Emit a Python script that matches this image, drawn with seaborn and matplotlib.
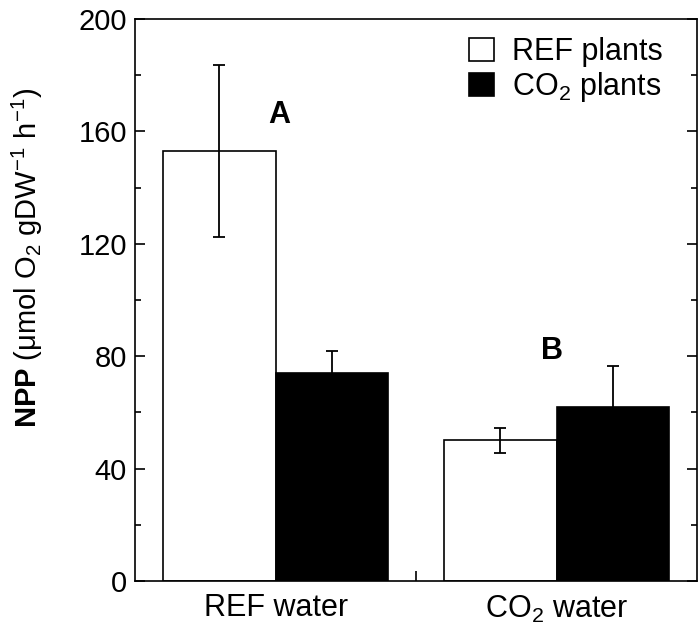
import pandas as pd
import numpy as np
import seaborn as sns
import matplotlib.pyplot as plt
from matplotlib.ticker import MultipleLocator, FixedLocator

# values
water = ["REF water", "CO$_2$ water"]
plants = ["REF plants", "CO$_2$ plants"]
npp_ref_plants = [153, 50]
npp_co2_plants = [74, 62]
err_ref_plants = [30.5, 4.5]
err_co2_plants = [8, 14.5]
letters = ["A", "B"]
letter_x = [0.014, 0.985]
letter_y = [166, 82]

df = pd.DataFrame({
    "water": water * 2,
    "plants": [plants[0]] * 2 + [plants[1]] * 2,
    "npp": npp_ref_plants + npp_co2_plants,
    "err": err_ref_plants + err_co2_plants,
})

sns.set_style("ticks", {"axes.edgecolor": "black", "text.color": "black",
                        "axes.labelcolor": "black", "xtick.color": "black",
                        "ytick.color": "black"})
plt.rcParams["font.family"] = ["Liberation Sans", "DejaVu Sans"]
plt.rcParams["mathtext.fontset"] = "custom"
plt.rcParams["mathtext.rm"] = "Liberation Sans"
plt.rcParams["mathtext.it"] = "Liberation Sans:italic"
plt.rcParams["mathtext.bf"] = "Liberation Sans:bold"

fig = plt.figure(figsize=(7, 6.37), dpi=100)
ax = fig.add_axes([0.193, 0.088, 0.803, 0.882])

sns.barplot(data=df, x="water", y="npp", hue="plants", order=water,
            hue_order=plants, palette=["white", "black"], edgecolor="black",
            linewidth=1.2, errorbar=None, width=0.8, ax=ax)

# error bars at bar centres
for patches, (_, sub) in zip(ax.containers, df.groupby("plants", sort=False)):
    xs = [p.get_x() + p.get_width() / 2 for p in patches]
    ax.errorbar(xs, sub["npp"], yerr=sub["err"], fmt="none", ecolor="black",
                elinewidth=1.3, capsize=4, capthick=1.3)

for t, x, y in zip(letters, letter_x, letter_y):
    ax.text(x, y, t, fontsize=22, fontweight="bold", ha="center", va="center",
            color="black")

ax.set_xlim(-0.5, 1.5)
ax.set_ylim(0, 200)
ax.yaxis.set_major_locator(MultipleLocator(40))
ax.yaxis.set_minor_locator(MultipleLocator(20))
ax.tick_params(axis="y", which="major", direction="in", length=7, width=1.2,
               right=True, labelsize=21, pad=6)
ax.tick_params(axis="y", which="minor", direction="in", length=4, width=1.2,
               right=True)
ax.xaxis.set_minor_locator(FixedLocator([0.5]))
ax.tick_params(axis="x", which="major", length=0, labelsize=22, pad=9)
ax.tick_params(axis="x", which="minor", direction="in", length=7, width=1.2)
ax.set_xlabel("")
ax.set_ylabel(r"$\mathbf{NPP}$ (μmol O$_2$ gDW$^{-1}$ h$^{-1}$)", fontsize=21)
ax.yaxis.set_label_coords(-0.16, 0.575)
for s in ax.spines.values():
    s.set_linewidth(1.2)

leg = ax.legend(loc="upper right", bbox_to_anchor=(0.982, 1.012), frameon=False,
                fontsize=22, handlelength=0.8, handleheight=0.8,
                handletextpad=0.6, labelspacing=0.1, borderaxespad=0.4)

fig.savefig("out.png", dpi=100)
